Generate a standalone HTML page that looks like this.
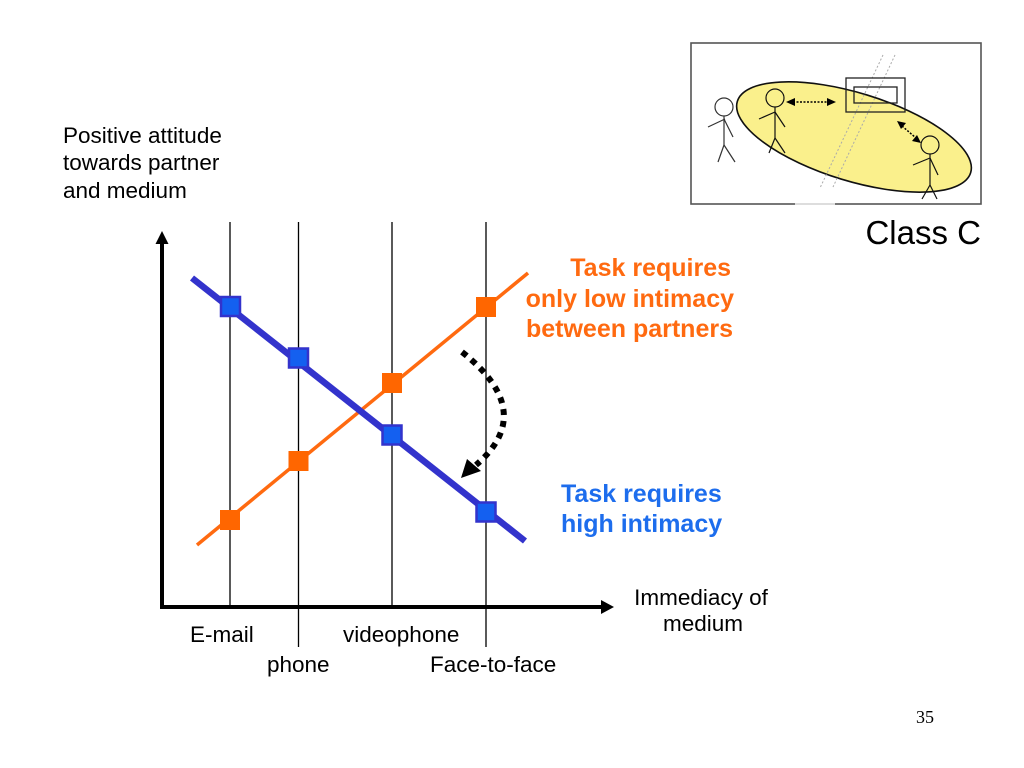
<!DOCTYPE html>
<html><head><meta charset="utf-8"><style>
html,body{margin:0;padding:0;background:#fff;}
svg{display:block;}
text{font-family:"Liberation Sans",Arial,sans-serif;}
</style></head><body>
<svg width="1024" height="768" viewBox="0 0 1024 768" xmlns="http://www.w3.org/2000/svg">
<rect width="1024" height="768" fill="#fff"/>
<!-- Class C inset -->
<rect x="691" y="43" width="290" height="161" fill="#fff" stroke="#555" stroke-width="1.6"/>
<line x1="795" y1="204" x2="835" y2="204" stroke="#ddd" stroke-width="2"/>
<ellipse cx="854" cy="137" rx="122" ry="44" transform="rotate(17 854 137)" fill="#faf08c" stroke="#111" stroke-width="1.6"/>
<line x1="883" y1="55" x2="820" y2="188" stroke="#aaa" stroke-width="1" stroke-dasharray="2 2"/>
<line x1="895" y1="55" x2="833" y2="187" stroke="#aaa" stroke-width="1" stroke-dasharray="2 2"/>
<rect x="846" y="78" width="59" height="34" fill="none" stroke="#222" stroke-width="1.3"/>
<rect x="854" y="87" width="43" height="16" fill="none" stroke="#222" stroke-width="1.3"/>
<!-- figure outside -->
<g stroke="#333" stroke-width="1.2" fill="none">
<circle cx="724" cy="107" r="9" fill="#fff"/>
<line x1="724" y1="116" x2="724" y2="145"/>
<line x1="724" y1="145" x2="718" y2="162"/>
<line x1="724" y1="145" x2="735" y2="162"/>
<line x1="708" y1="127" x2="725" y2="119"/>
<line x1="724" y1="119" x2="733" y2="137"/>
</g>
<g stroke="#111" stroke-width="1.2" fill="none">
<circle cx="775" cy="98" r="9"/>
<line x1="775" y1="107" x2="775" y2="138"/>
<line x1="775" y1="138" x2="769" y2="153"/>
<line x1="775" y1="138" x2="785" y2="153"/>
<line x1="759" y1="119" x2="775" y2="112"/>
<line x1="775" y1="112" x2="785" y2="127"/>
<circle cx="930" cy="145" r="9"/>
<line x1="930" y1="154" x2="930" y2="185"/>
<line x1="930" y1="185" x2="922" y2="199"/>
<line x1="930" y1="185" x2="937" y2="199"/>
<line x1="913" y1="165" x2="930" y2="158"/>
<line x1="930" y1="158" x2="938" y2="175"/>
</g>
<g stroke="#000" stroke-width="1.5" stroke-dasharray="2 1.5">
<line x1="793" y1="102" x2="829" y2="102"/>
<line x1="902" y1="126" x2="916" y2="138"/>
</g>
<polygon points="786,102 795,98 795,106" fill="#000"/>
<polygon points="836,102 827,98 827,106" fill="#000"/>
<polygon points="897,121 906,123 901,129" fill="#000"/>
<polygon points="921,143 912,141 917,135" fill="#000"/>
<text x="981" y="244" font-size="33" text-anchor="end" fill="#000">Class C</text>

<!-- y-axis label -->
<text font-size="22.5" fill="#000"><tspan x="63" y="143">Positive attitude</tspan><tspan x="63" y="170">towards partner</tspan><tspan x="63" y="198">and medium</tspan></text>

<!-- vertical lines -->
<g stroke="#000" stroke-width="1.3">
<line x1="230" y1="222" x2="230" y2="607"/>
<line x1="298.5" y1="222" x2="298.5" y2="647"/>
<line x1="392" y1="222" x2="392" y2="607"/>
<line x1="486" y1="222" x2="486" y2="647"/>
</g>
<!-- axes -->
<line x1="162" y1="242" x2="162" y2="609" stroke="#000" stroke-width="4"/>
<polygon points="162,231 155.5,244 168.5,244" fill="#000"/>
<line x1="160" y1="607" x2="603" y2="607" stroke="#000" stroke-width="4"/>
<polygon points="614,607 601,600 601,614" fill="#000"/>

<!-- orange line -->
<line x1="197" y1="545" x2="528" y2="273" stroke="#ff6a10" stroke-width="3.5"/>
<g fill="#ff6600">
<rect x="220" y="510" width="20" height="20"/>
<rect x="288.5" y="451" width="20" height="20"/>
<rect x="382" y="373" width="20" height="20"/>
<rect x="476" y="297" width="20" height="20"/>
</g>
<!-- blue line -->
<line x1="192" y1="278" x2="525" y2="541" stroke="#3333cc" stroke-width="6.5"/>
<g fill="#1460f0" stroke="#3333cc" stroke-width="2.5">
<rect x="221" y="297" width="19" height="19"/>
<rect x="289" y="348.5" width="19" height="19"/>
<rect x="382.5" y="425.5" width="19" height="19"/>
<rect x="476.5" y="502.5" width="19" height="19"/>
</g>

<!-- dotted curved arrow -->
<path d="M462,352 Q538,412 476,465" fill="none" stroke="#000" stroke-width="6" stroke-dasharray="6 6"/>
<polygon points="461,478 467,459 481,471" fill="#000"/>

<!-- labels -->
<text font-size="25" font-weight="bold" fill="#ff6a10" text-anchor="end"><tspan x="731" y="276">Task requires</tspan><tspan x="734" y="307">only low intimacy</tspan><tspan x="733" y="337">between partners</tspan></text>
<text font-size="25" font-weight="bold" fill="#1d6ded"><tspan x="561" y="502">Task requires</tspan><tspan x="561" y="532">high intimacy</tspan></text>
<text font-size="22.5" fill="#000" text-anchor="middle"><tspan x="701" y="605">Immediacy of</tspan><tspan x="703" y="631">medium</tspan></text>
<text font-size="22.5" fill="#000" x="190" y="642">E-mail</text>
<text font-size="22.5" fill="#000" x="343" y="642">videophone</text>
<text font-size="22.5" fill="#000" x="267" y="672">phone</text>
<text font-size="22.5" fill="#000" x="430" y="672">Face-to-face</text>
<text x="916" y="723" font-size="18" fill="#000" style="font-family:'Liberation Serif',serif">35</text>
</svg>
</body></html>
